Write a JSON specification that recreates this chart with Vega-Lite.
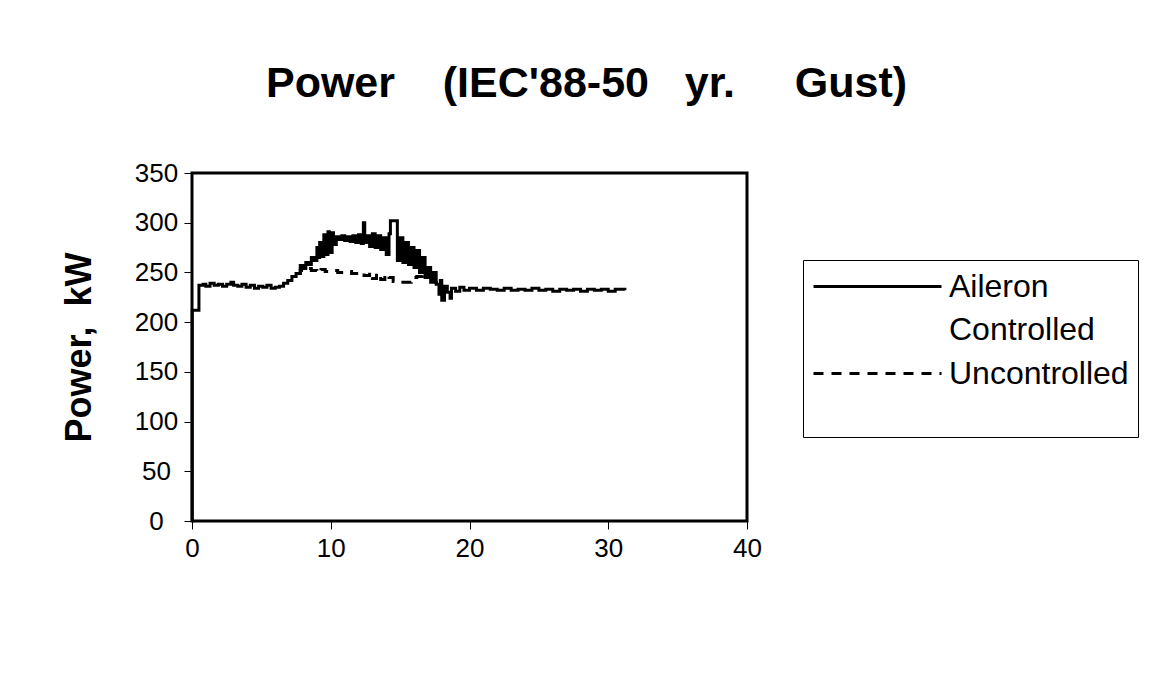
{
  "$schema": "https://vega.github.io/schema/vega-lite/v6.json",
  "autosize": {"type": "none"},
  "padding": {"left": 192, "top": 173, "right": 410, "bottom": 168},
  "width": 555,
  "height": 348,
  "background": "white",
  "title": {
    "text": "Power\u00a0\u00a0\u00a0 (IEC'88-50\u00a0\u00a0 yr.\u00a0\u00a0\u00a0\u00a0 Gust)",
    "font": "Liberation Sans",
    "fontSize": 43,
    "fontWeight": "bold",
    "color": "black",
    "anchor": "middle",
    "dx": 117,
    "offset": 54
  },
  "data": {"values": [
    {"t": 0, "p": 0, "s": "Aileron Controlled"},
    {"t": 0.02, "p": 212, "s": "Aileron Controlled"},
    {"t": 0.5, "p": 237, "s": "Aileron Controlled"},
    {"t": 0.8, "p": 238, "s": "Aileron Controlled"},
    {"t": 1.0, "p": 236, "s": "Aileron Controlled"},
    {"t": 1.3, "p": 239, "s": "Aileron Controlled"},
    {"t": 1.6, "p": 237, "s": "Aileron Controlled"},
    {"t": 1.9, "p": 238, "s": "Aileron Controlled"},
    {"t": 2.2, "p": 236, "s": "Aileron Controlled"},
    {"t": 2.5, "p": 238, "s": "Aileron Controlled"},
    {"t": 2.8, "p": 240, "s": "Aileron Controlled"},
    {"t": 3.0, "p": 237, "s": "Aileron Controlled"},
    {"t": 3.3, "p": 236, "s": "Aileron Controlled"},
    {"t": 3.6, "p": 238, "s": "Aileron Controlled"},
    {"t": 3.9, "p": 235, "s": "Aileron Controlled"},
    {"t": 4.2, "p": 237, "s": "Aileron Controlled"},
    {"t": 4.5, "p": 234, "s": "Aileron Controlled"},
    {"t": 4.8, "p": 236, "s": "Aileron Controlled"},
    {"t": 5.1, "p": 235, "s": "Aileron Controlled"},
    {"t": 5.4, "p": 237, "s": "Aileron Controlled"},
    {"t": 5.7, "p": 234, "s": "Aileron Controlled"},
    {"t": 6.0, "p": 235, "s": "Aileron Controlled"},
    {"t": 6.3, "p": 236, "s": "Aileron Controlled"},
    {"t": 6.6, "p": 239, "s": "Aileron Controlled"},
    {"t": 6.9, "p": 242, "s": "Aileron Controlled"},
    {"t": 7.2, "p": 246, "s": "Aileron Controlled"},
    {"t": 7.5, "p": 249, "s": "Aileron Controlled"},
    {"t": 7.8, "p": 257, "s": "Aileron Controlled"},
    {"t": 8.0, "p": 254, "s": "Aileron Controlled"},
    {"t": 8.2, "p": 260, "s": "Aileron Controlled"},
    {"t": 8.4, "p": 258, "s": "Aileron Controlled"},
    {"t": 8.6, "p": 265, "s": "Aileron Controlled"},
    {"t": 8.8, "p": 262, "s": "Aileron Controlled"},
    {"t": 9.0, "p": 275, "s": "Aileron Controlled"},
    {"t": 9.1, "p": 265, "s": "Aileron Controlled"},
    {"t": 9.2, "p": 280, "s": "Aileron Controlled"},
    {"t": 9.3, "p": 266, "s": "Aileron Controlled"},
    {"t": 9.5, "p": 288, "s": "Aileron Controlled"},
    {"t": 9.6, "p": 268, "s": "Aileron Controlled"},
    {"t": 9.8, "p": 291, "s": "Aileron Controlled"},
    {"t": 9.9, "p": 270, "s": "Aileron Controlled"},
    {"t": 10.1, "p": 290, "s": "Aileron Controlled"},
    {"t": 10.2, "p": 278, "s": "Aileron Controlled"},
    {"t": 10.4, "p": 286, "s": "Aileron Controlled"},
    {"t": 10.6, "p": 283, "s": "Aileron Controlled"},
    {"t": 10.8, "p": 287, "s": "Aileron Controlled"},
    {"t": 11.0, "p": 282, "s": "Aileron Controlled"},
    {"t": 11.2, "p": 286, "s": "Aileron Controlled"},
    {"t": 11.4, "p": 281, "s": "Aileron Controlled"},
    {"t": 11.6, "p": 287, "s": "Aileron Controlled"},
    {"t": 11.8, "p": 280, "s": "Aileron Controlled"},
    {"t": 12.0, "p": 288, "s": "Aileron Controlled"},
    {"t": 12.2, "p": 279, "s": "Aileron Controlled"},
    {"t": 12.35, "p": 300, "s": "Aileron Controlled"},
    {"t": 12.45, "p": 280, "s": "Aileron Controlled"},
    {"t": 12.6, "p": 287, "s": "Aileron Controlled"},
    {"t": 12.8, "p": 276, "s": "Aileron Controlled"},
    {"t": 13.0, "p": 289, "s": "Aileron Controlled"},
    {"t": 13.2, "p": 275, "s": "Aileron Controlled"},
    {"t": 13.4, "p": 287, "s": "Aileron Controlled"},
    {"t": 13.6, "p": 273, "s": "Aileron Controlled"},
    {"t": 13.8, "p": 285, "s": "Aileron Controlled"},
    {"t": 14.0, "p": 268, "s": "Aileron Controlled"},
    {"t": 14.2, "p": 289, "s": "Aileron Controlled"},
    {"t": 14.3, "p": 302, "s": "Aileron Controlled"},
    {"t": 14.8, "p": 262, "s": "Aileron Controlled"},
    {"t": 15.0, "p": 285, "s": "Aileron Controlled"},
    {"t": 15.2, "p": 260, "s": "Aileron Controlled"},
    {"t": 15.4, "p": 280, "s": "Aileron Controlled"},
    {"t": 15.6, "p": 258, "s": "Aileron Controlled"},
    {"t": 15.8, "p": 275, "s": "Aileron Controlled"},
    {"t": 16.0, "p": 255, "s": "Aileron Controlled"},
    {"t": 16.2, "p": 272, "s": "Aileron Controlled"},
    {"t": 16.4, "p": 250, "s": "Aileron Controlled"},
    {"t": 16.6, "p": 265, "s": "Aileron Controlled"},
    {"t": 16.8, "p": 245, "s": "Aileron Controlled"},
    {"t": 17.0, "p": 255, "s": "Aileron Controlled"},
    {"t": 17.2, "p": 240, "s": "Aileron Controlled"},
    {"t": 17.4, "p": 250, "s": "Aileron Controlled"},
    {"t": 17.6, "p": 238, "s": "Aileron Controlled"},
    {"t": 17.8, "p": 228, "s": "Aileron Controlled"},
    {"t": 17.9, "p": 242, "s": "Aileron Controlled"},
    {"t": 18.0, "p": 222, "s": "Aileron Controlled"},
    {"t": 18.2, "p": 236, "s": "Aileron Controlled"},
    {"t": 18.4, "p": 230, "s": "Aileron Controlled"},
    {"t": 18.6, "p": 224, "s": "Aileron Controlled"},
    {"t": 18.7, "p": 234, "s": "Aileron Controlled"},
    {"t": 19.0, "p": 231, "s": "Aileron Controlled"},
    {"t": 19.3, "p": 235, "s": "Aileron Controlled"},
    {"t": 19.6, "p": 232, "s": "Aileron Controlled"},
    {"t": 20.0, "p": 234, "s": "Aileron Controlled"},
    {"t": 20.5, "p": 232, "s": "Aileron Controlled"},
    {"t": 21.0, "p": 234, "s": "Aileron Controlled"},
    {"t": 21.5, "p": 233, "s": "Aileron Controlled"},
    {"t": 22.0, "p": 232, "s": "Aileron Controlled"},
    {"t": 22.5, "p": 234, "s": "Aileron Controlled"},
    {"t": 23.0, "p": 232, "s": "Aileron Controlled"},
    {"t": 23.5, "p": 233, "s": "Aileron Controlled"},
    {"t": 24.0, "p": 232, "s": "Aileron Controlled"},
    {"t": 24.5, "p": 234, "s": "Aileron Controlled"},
    {"t": 25.0, "p": 232, "s": "Aileron Controlled"},
    {"t": 25.5, "p": 233, "s": "Aileron Controlled"},
    {"t": 26.0, "p": 231, "s": "Aileron Controlled"},
    {"t": 26.5, "p": 233, "s": "Aileron Controlled"},
    {"t": 27.0, "p": 232, "s": "Aileron Controlled"},
    {"t": 27.5, "p": 233, "s": "Aileron Controlled"},
    {"t": 28.0, "p": 231, "s": "Aileron Controlled"},
    {"t": 28.5, "p": 233, "s": "Aileron Controlled"},
    {"t": 29.0, "p": 232, "s": "Aileron Controlled"},
    {"t": 29.5, "p": 233, "s": "Aileron Controlled"},
    {"t": 30.0, "p": 231, "s": "Aileron Controlled"},
    {"t": 30.5, "p": 233, "s": "Aileron Controlled"},
    {"t": 31.2, "p": 232, "s": "Aileron Controlled"},
    {"t": 7.5, "p": 249, "s": "Uncontrolled"},
    {"t": 7.8, "p": 252, "s": "Uncontrolled"},
    {"t": 8.2, "p": 254, "s": "Uncontrolled"},
    {"t": 8.6, "p": 252, "s": "Uncontrolled"},
    {"t": 9.0, "p": 250, "s": "Uncontrolled"},
    {"t": 9.3, "p": 253, "s": "Uncontrolled"},
    {"t": 9.6, "p": 251, "s": "Uncontrolled"},
    {"t": 10.0, "p": 252, "s": "Uncontrolled"},
    {"t": 10.5, "p": 250, "s": "Uncontrolled"},
    {"t": 11.0, "p": 251, "s": "Uncontrolled"},
    {"t": 11.5, "p": 249, "s": "Uncontrolled"},
    {"t": 12.0, "p": 250, "s": "Uncontrolled"},
    {"t": 12.4, "p": 247, "s": "Uncontrolled"},
    {"t": 12.8, "p": 250, "s": "Uncontrolled"},
    {"t": 13.0, "p": 244, "s": "Uncontrolled"},
    {"t": 13.3, "p": 249, "s": "Uncontrolled"},
    {"t": 13.6, "p": 243, "s": "Uncontrolled"},
    {"t": 13.9, "p": 248, "s": "Uncontrolled"},
    {"t": 14.2, "p": 245, "s": "Uncontrolled"},
    {"t": 14.5, "p": 241, "s": "Uncontrolled"},
    {"t": 15.0, "p": 240, "s": "Uncontrolled"},
    {"t": 15.5, "p": 240, "s": "Uncontrolled"},
    {"t": 15.8, "p": 245, "s": "Uncontrolled"},
    {"t": 16.2, "p": 246, "s": "Uncontrolled"},
    {"t": 16.6, "p": 250, "s": "Uncontrolled"},
    {"t": 17.0, "p": 245, "s": "Uncontrolled"},
    {"t": 17.3, "p": 240, "s": "Uncontrolled"},
    {"t": 17.6, "p": 238, "s": "Uncontrolled"}
  ]},
  "mark": {"type": "line", "interpolate": "step-after", "strokeWidth": 3, "color": "black"},
  "encoding": {
    "x": {
      "field": "t", "type": "quantitative",
      "scale": {"domain": [0, 40], "nice": false, "zero": false},
      "axis": {"values": [0, 10, 20, 30, 40], "title": null, "labelPadding": 6, "labelFlush": false}
    },
    "y": {
      "field": "p", "type": "quantitative",
      "scale": {"domain": [0, 350], "nice": false},
      "axis": {
        "values": [0, 50, 100, 150, 200, 250, 300, 350],
        "title": "Power,\u00a0 kW",
        "titleFontSize": 36,
        "titlePadding": 36,
        "labelAlign": "center",
        "labelPadding": 28,
        "labelFlush": false
      }
    },
    "strokeDash": {
      "field": "s", "type": "nominal",
      "scale": {"domain": ["Aileron Controlled", "Uncontrolled"], "range": [[1, 0], [10, 8]]},
      "legend": {
        "title": "\u00a0",
        "titleOrient": "bottom",
        "titleFontSize": 20,
        "titlePadding": 18,
        "orient": "none",
        "legendX": 611,
        "legendY": 87,
        "symbolType": "M-1,0H7",
        "symbolSize": 1024,
        "symbolStrokeWidth": 3,
        "symbolStrokeColor": "black",
        "labelExpr": "datum.label == 'Aileron Controlled' ? ['Aileron', 'Controlled'] : datum.label",
        "labelFont": "Liberation Sans",
        "labelFontSize": 32,
        "labelColor": "black",
        "labelOffset": 102,
        "labelBaseline": "middle",
        "labelLimit": 400,
        "rowPadding": 10,
        "padding": 9,
        "strokeColor": "black"
      }
    }
  },
  "config": {
    "view": {"stroke": "black", "strokeWidth": 3},
    "style": {"guide-label": {"lineHeight": 43}},
    "axis": {
      "domain": false,
      "grid": false,
      "ticks": true,
      "tickColor": "black",
      "tickSize": 8,
      "labelFont": "Liberation Sans",
      "labelFontSize": 26,
      "labelColor": "black",
      "titleFont": "Liberation Sans",
      "titleFontWeight": "bold",
      "titleColor": "black"
    }
  }
}
